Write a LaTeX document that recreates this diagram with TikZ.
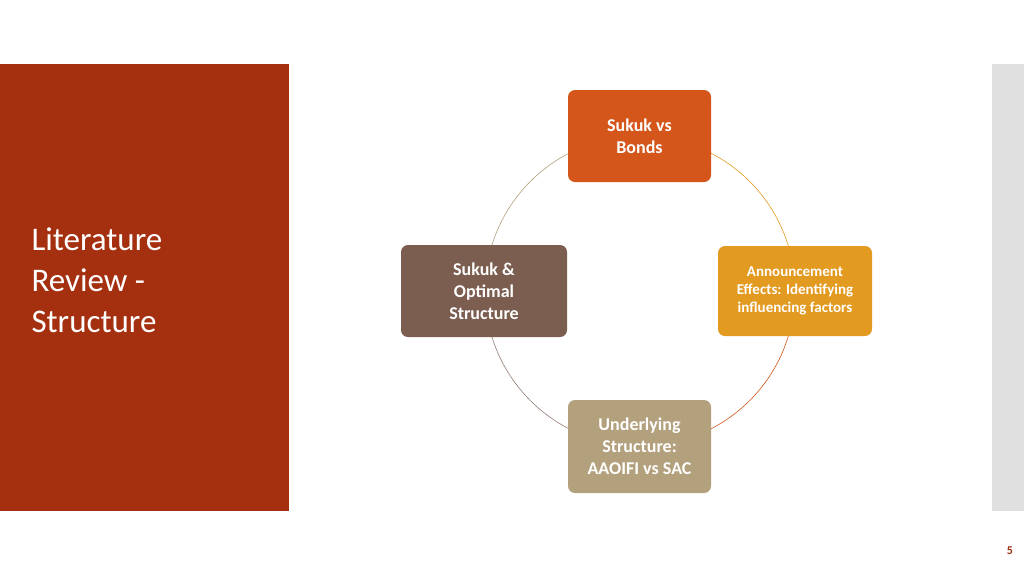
\documentclass[tikz,border=0pt]{standalone}
\usepackage{fontspec}
\setmainfont{Carlito}
\definecolor{panel}{HTML}{A5300F}
\definecolor{cA}{HTML}{D4561A}
\definecolor{cB}{HTML}{E39A20}
\definecolor{cC}{HTML}{B3A07D}
\definecolor{cD}{HTML}{7B5E50}
\begin{document}
\begin{tikzpicture}[x=1pt,y=-1pt,
  box/.style={rounded corners=7pt,text=white,font=\bfseries\fontsize{18}{22}\selectfont,align=center,inner sep=0pt},
  arc/.style={line width=0.6pt}]
\useasboundingbox (0,0) rectangle (1024,576);
\fill[white] (0,0) rectangle (1024,576);
\fill[panel] (0,64) rectangle (289,511);
\fill[black!12] (992,64) rectangle (1024,511);
\node[anchor=north west,text=white,align=left,font=\fontsize{33}{41}\selectfont] (title) at (28,224) {Literature\\Review -\\Structure};
\coordinate (c) at (640,291);
\draw[arc,cA] (c) ++(90:155) arc[start angle=90,end angle=0,radius=155];
\draw[arc,cB] (c) ++(0:155) arc[start angle=0,end angle=-90,radius=155];
\draw[arc,cC] (c) ++(-90:155) arc[start angle=-90,end angle=-180,radius=155];
\draw[arc,cD!80] (c) ++(180:155) arc[start angle=180,end angle=90,radius=155];
\node[box,fill=cA,minimum width=143pt,minimum height=92pt] (top) at (639.5,136) {Sukuk vs\\Bonds};
\node[box,fill=cB,minimum width=154pt,minimum height=90pt,font=\bfseries\fontsize{15}{18}\selectfont] (right) at (795,291) {Announcement\\Effects: Identifying\\influencing factors};
\node[box,fill=cC,minimum width=143pt,minimum height=93pt] (bottom) at (639.5,446.5) {Underlying\\Structure:\\AAOIFI vs SAC};
\node[box,fill=cD,minimum width=166pt,minimum height=92pt] (left) at (484,291) {Sukuk \&\\Optimal\\Structure};
\node[text=panel,font=\bfseries\fontsize{12}{14}\selectfont] (pg) at (1010,551) {5};
\end{tikzpicture}
\end{document}
